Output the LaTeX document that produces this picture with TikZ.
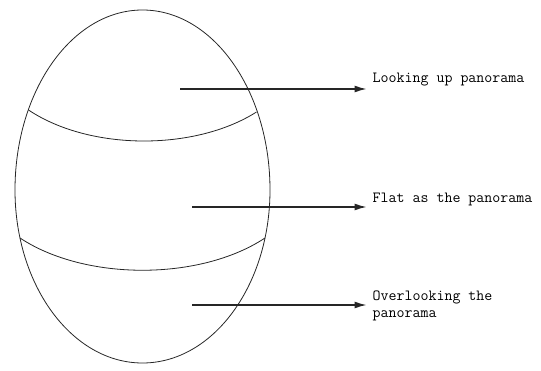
\documentclass[tikz,border=0pt]{standalone}
\usetikzlibrary{arrows.meta}
\begin{document}
\begin{tikzpicture}[x=1pt, y=1pt,
        egg/.style={draw=black!85, line width=0.8pt},
        arr/.style={-{Latex[length=12pt, width=7pt]}, line width=1.3pt, black!85},
        lbl/.style={font=\ttfamily\fontsize{15.5}{16}\selectfont, inner sep=0pt,
                    anchor=base west, align=left}]
      \useasboundingbox (0,0) rectangle (541,370);
      \draw[egg] (15,180)
            arc[start angle=180, end angle=0, x radius=127.5, y radius=180]
            arc[start angle=0, end angle=-180, x radius=127.5, y radius=173];
      \draw[egg] (28.5,260) .. controls (90,219) and (195,219) .. (256.5,258);
      \draw[egg] (20,132) .. controls (85,89) and (200,89) .. (265,132);
      \coordinate (up)   at (180,281);
      \coordinate (mid)  at (192,163);
      \coordinate (down) at (192,65);
      \node[lbl] (lookup) at (372.5,287) {Looking up panorama};
      \node[lbl] (flat)   at (372.5,167) {Flat as the panorama};
      \node[lbl] (over)   at (372.5,53)  {Overlooking the\\panorama};
      \draw[arr] (up)   -- ([xshift=-6pt]up -| lookup.west);
      \draw[arr] (mid)  -- ([xshift=-6pt]mid -| flat.west);
      \draw[arr] (down) -- ([xshift=-6pt]down -| over.west);
    \end{tikzpicture}
\end{document}
